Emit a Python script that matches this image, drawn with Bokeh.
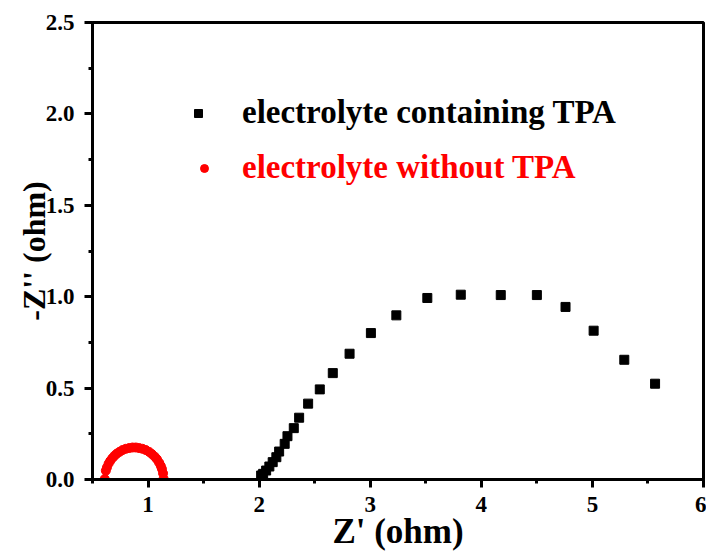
from bokeh.plotting import figure
from bokeh.models import Range1d, Legend, LegendItem, SingleIntervalTicker, PrintfTickFormatter
from bokeh.embed import file_html
from bokeh.resources import INLINE

# electrolyte containing TPA (black squares)
tpa_x = [2.018, 2.036, 2.063, 2.092, 2.122, 2.155, 2.18, 2.23, 2.255, 2.312, 2.36, 2.441,
         2.546, 2.663, 2.814, 3.006, 3.235, 3.514, 3.815, 4.175, 4.50, 4.758, 5.011, 5.287, 5.564]
tpa_y = [0.022, 0.031, 0.049, 0.071, 0.095, 0.122, 0.153, 0.195, 0.237, 0.281, 0.338, 0.415,
         0.493, 0.582, 0.688, 0.801, 0.898, 0.993, 1.011, 1.009, 1.009, 0.944, 0.814, 0.655, 0.524]

# electrolyte without TPA (red circles)
no_x = [0.61, 0.62, 0.63, 0.645, 0.66, 0.68, 0.70, 0.72, 0.745, 0.77, 0.80, 0.83, 0.86,
        0.89, 0.92, 0.95, 0.98, 1.01, 1.035, 1.06, 1.08, 1.10, 1.115, 1.125, 1.135, 1.14]
no_y = [0.003, 0.048, 0.066, 0.087, 0.102, 0.118, 0.131, 0.142, 0.152, 0.161, 0.168, 0.172, 0.175,
        0.175, 0.172, 0.168, 0.161, 0.151, 0.139, 0.125, 0.111, 0.092, 0.074, 0.058, 0.034, 0.005]

x_label = "Z' (ohm)"
y_label = "-Z'' (ohm)"
label_tpa = "electrolyte containing TPA"
label_no = "electrolyte without TPA"

FONT = "Liberation Serif"

p = figure(width=706, height=559, output_backend="svg", toolbar_location=None,
           x_range=Range1d(0.5, 6), y_range=Range1d(0, 2.5),
           min_border_left=92, min_border_right=3, min_border_top=22, min_border_bottom=80)

p.xgrid.visible = False
p.ygrid.visible = False
p.outline_line_color = "black"
p.outline_line_width = 3
p.outline_line_alpha = 1.0

p.xaxis.ticker = SingleIntervalTicker(interval=1, num_minor_ticks=2)
p.yaxis.ticker = SingleIntervalTicker(interval=0.5, num_minor_ticks=2)
p.yaxis.formatter = PrintfTickFormatter(format="%.1f")
p.xaxis.formatter = PrintfTickFormatter(format="%d")

for ax in (p.xaxis[0], p.yaxis[0]):
    ax.axis_line_width = 3
    ax.axis_line_color = "black"
    ax.major_tick_line_width = 3
    ax.minor_tick_line_width = 3
    ax.major_tick_line_color = "black"
    ax.minor_tick_line_color = "black"
    ax.major_tick_out = 8
    ax.major_tick_in = 0
    ax.minor_tick_out = 4
    ax.minor_tick_in = 0
    ax.major_label_text_font = FONT
    ax.major_label_text_font_style = "bold"
    ax.major_label_text_font_size = "23px"
    ax.major_label_text_color = "black"
    ax.axis_label_text_font = FONT
    ax.axis_label_text_font_style = "bold"
    ax.axis_label_text_color = "black"

p.xaxis.axis_label = x_label
p.yaxis.axis_label = y_label
p.xaxis.axis_label_text_font_size = "35px"
p.yaxis.axis_label_text_font_size = "32px"
p.xaxis.major_label_standoff = 9
p.yaxis.major_label_standoff = 10
p.xaxis.axis_label_standoff = -3
p.yaxis.axis_label_standoff = -9

r_tpa = p.scatter(tpa_x, tpa_y, marker="square", size=9, color="black")
r_no = p.scatter(no_x, no_y, marker="circle", size=9, color="red")


def make_legend(label, rend, color, loc, standoff):
    leg = Legend(items=[LegendItem(label=label, renderers=[rend])], location=loc,
                 padding=0, margin=0, spacing=0, border_line_color=None,
                 background_fill_alpha=0, glyph_width=20, glyph_height=20,
                 label_standoff=standoff, label_text_font=FONT,
                 label_text_font_style="bold", label_text_font_size="33px",
                 label_text_color=color)
    return leg


p.add_layout(make_legend(label_tpa, r_tpa, "black", (96, 348), 34))
p.add_layout(make_legend(label_no, r_no, "red", (102, 293), 28))

open("out.html", "w").write(file_html(p, INLINE))
